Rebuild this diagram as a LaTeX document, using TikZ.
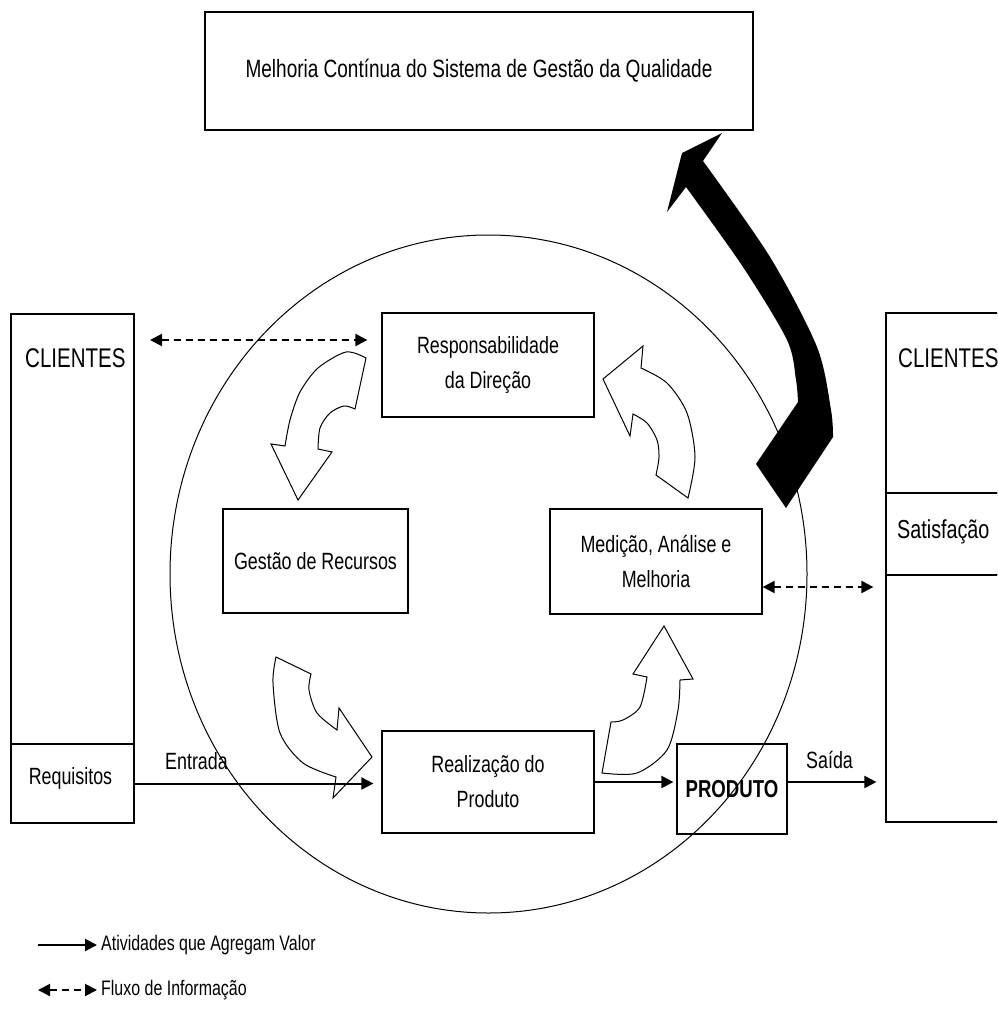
\documentclass[tikz,border=0pt]{standalone}
\usepackage{fontspec}
\setmainfont{Liberation Sans}[FakeStretch=0.76]
\usetikzlibrary{arrows.meta}
\begin{document}
\begin{tikzpicture}[x=1pt,y=-1pt,
  font=\fontsize{23.5}{35}\selectfont,
  box/.style={draw, line width=1.2pt, inner sep=0pt, align=center},
  txt/.style={inner sep=0pt, align=center},
  bigtxt/.style={inner sep=0pt, anchor=west, font=\fontsize{27}{32}\selectfont},
  solidarrow/.style={line width=2pt, -{Triangle[length=12pt,width=12pt]}},
  dasharrow/.style={line width=2pt, dash pattern=on 7pt off 5pt,
     {Triangle[length=12pt,width=12pt]}-{Triangle[length=12pt,width=12pt]}},
  curvedarrow/.style={draw, line width=1pt, line join=miter},
  legtext/.style={inner sep=0pt, anchor=west, font=\fontsize{21}{24}\selectfont}]
\useasboundingbox (0,0) rectangle (997,1014);
\clip (0,0) rectangle (997,1014);

% central ellipse
\draw[line width=1pt] (488.5,574) ellipse [x radius=318.5, y radius=339];

% boxes
\node[box, minimum width=548pt, minimum height=118pt, font=\fontsize{25}{30}\selectfont] (top) at (479,71)
  {Melhoria Contínua do Sistema de Gestão da Qualidade};
\node[box, minimum width=212pt, minimum height=104pt] (resp) at (488,365)
  {Responsabilidade\\da Direção};
\node[box, minimum width=185pt, minimum height=104pt] (gest) at (315.5,561)
  {Gestão de Recursos};
\node[box, minimum width=212pt, minimum height=105pt] (med) at (656,561.5)
  {Medição, Análise e\\Melhoria};
\node[box, minimum width=212pt, minimum height=102pt] (real) at (488,782)
  {Realização do\\Produto};
\node[box, minimum width=110pt, minimum height=90pt, font=\fontsize{24.5}{35}\selectfont\bfseries] (prod) at (732,789)
  {PRODUTO};

% left client column
\node[box, minimum width=123pt, minimum height=430pt] (lcli) at (72.5,529) {};
\node[bigtxt] (lclitxt) at (25,358) {CLIENTES};
\node[box, minimum width=123pt, minimum height=79pt] (req) at (72.5,783.5) {};
\node[txt] (reqtxt) at (70.5,778) {Requisitos};

% right client column
\node[box, minimum width=124pt, minimum height=180pt] (rcli) at (948,403) {};
\node[bigtxt] (rclitxt) at (898,358) {CLIENTES};
\node[box, minimum width=124pt, minimum height=82pt] (sat) at (948,534) {};
\node[txt, anchor=west, font=\fontsize{26}{30}\selectfont] (sattxt) at (897,532) {Satisfação};
\node[box, minimum width=124pt, minimum height=247pt] (rlow) at (948,698.5) {};

% flow arrows
\draw[solidarrow, shorten >=8pt] (req.east) -- (req.east -| real.west);
\node[txt, anchor=west] (entrada) at (165,761) {Entrada};
\draw[solidarrow, shorten >=3pt] (real.east) -- (real.east -| prod.west);
\draw[solidarrow, shorten >=9pt] (prod.east |- real.east) -- (real.east -| rlow.west);
\node[txt, anchor=west] (saida) at (806,760) {Saída};

% information flows
\coordinate (d1) at (150,340);
\draw[dasharrow, shorten >=14pt] (d1) -- (d1 -| resp.west);
\coordinate (d2) at (0,587);
\draw[dasharrow, shorten >=12pt] (d2 -| med.east) -- (d2 -| rlow.west);

% curved block arrows
\path[curvedarrow] plot[smooth] coordinates {(366,358) (346,352) (318,368) (300,392) (290,420) (285,446)}
  -- (271,444) -- (298,500) -- (332,452) -- (318,449)
  -- plot[smooth] coordinates {(318,449) (320,428) (330,413) (344,406) (355,409)} -- cycle;
\path[curvedarrow] plot[smooth] coordinates {(688,498) (695,457) (687,413) (667,383) (641,368)}
  -- (643,346) -- (603,379) -- (630,436) -- (633,414)
  -- plot[smooth] coordinates {(633,414) (647,423) (657,440) (659,457) (656,475)} -- cycle;
\path[curvedarrow] (276,657) -- (311,674)
  -- plot[smooth] coordinates {(311,674) (309,690) (317,713) (337,730)}
  -- (339,708) -- (372,757) -- (333,798) -- (336,777)
  -- plot[smooth] coordinates {(336,777) (303,763) (280,733) (273,683) (276,657)} -- cycle;
\path[curvedarrow] (664,626) -- (693,679) -- (680,680)
  -- plot[smooth] coordinates {(680,680) (678,710) (667,750) (637,773) (602,773)}
  -- (611,722)
  -- plot[smooth] coordinates {(611,722) (623,720) (640,707) (647,677)}
  -- (633,674) -- cycle;

% big black arrow
\fill[black] (756,464) -- (798,402)
  -- plot[smooth] coordinates {(798,402) (796,380) (787,340) (743,267) (686,187)}
  -- (667,212) -- (682,153) -- (722,133) -- (703,161)
  -- plot[smooth] coordinates {(703,161) (770,257) (817,347) (831,410) (833,437)}
  -- (786,508) -- cycle;

% legend
\node[legtext] (leg1) at (101,945) {Atividades que Agregam Valor};
\coordinate (l1) at (38,945);
\draw[solidarrow, shorten >=4pt] (l1) -- (leg1.west);
\node[legtext] (leg2) at (101,990) {Fluxo de Informação};
\coordinate (l2) at (38,990);
\draw[dasharrow, shorten >=4pt] (l2) -- (leg2.west);
\end{tikzpicture}
\end{document}
